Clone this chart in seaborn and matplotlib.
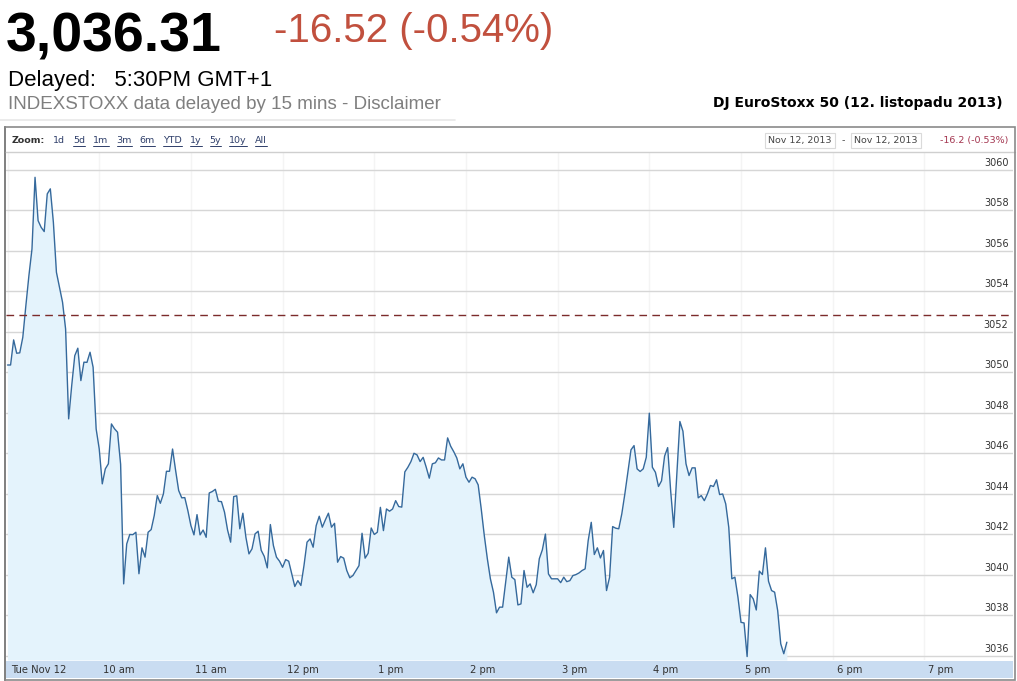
import matplotlib
matplotlib.use("Agg")
import numpy as np
import pandas as pd
import matplotlib.pyplot as plt
from matplotlib.patches import Rectangle
from matplotlib.lines import Line2D
from matplotlib.transforms import blended_transform_factory, ScaledTranslation
import seaborn as sns

# --- data (2-minute closes, 9:00 - 17:30) ---
ceny = [
    3050.35, 3050.35, 3051.59, 3050.93, 3050.95, 3051.72, 3053.28, 3054.77, 3056.08, 3059.62,
    3057.48, 3057.15, 3056.94, 3058.80, 3059.05, 3057.40, 3054.93, 3054.19, 3053.45, 3052.13,
    3047.69, 3049.33, 3050.81, 3051.18, 3049.58, 3050.49, 3050.48, 3050.98, 3050.24, 3047.19,
    3046.21, 3044.48, 3045.22, 3045.47, 3047.44, 3047.20, 3047.03, 3045.45, 3039.54, 3041.51,
    3041.98, 3041.97, 3042.09, 3040.04, 3041.32, 3040.86, 3042.09, 3042.22, 3042.91, 3043.90,
    3043.52, 3043.98, 3045.10, 3045.10, 3046.20, 3045.14, 3044.15, 3043.79, 3043.80, 3043.16,
    3042.42, 3041.96, 3042.96, 3041.96, 3042.20, 3041.84, 3044.03, 3044.10, 3044.21, 3043.62,
    3043.60, 3043.08, 3042.20, 3041.60, 3043.85, 3043.89, 3042.26, 3043.03, 3041.84, 3041.02,
    3041.27, 3042.01, 3042.14, 3041.20, 3040.90, 3040.33, 3042.47, 3041.43, 3040.86, 3040.66,
    3040.36, 3040.74, 3040.66, 3040.04, 3039.41, 3039.70, 3039.46, 3040.44, 3041.60, 3041.76,
    3041.35, 3042.42, 3042.88, 3042.34, 3042.70, 3043.03, 3042.34, 3042.53, 3040.61, 3040.89,
    3040.81, 3040.20, 3039.84, 3039.95, 3040.20, 3040.44, 3042.04, 3040.81, 3041.05, 3042.30,
    3041.98, 3042.09, 3043.32, 3042.17, 3043.24, 3043.13, 3043.24, 3043.65, 3043.36, 3043.33,
    3045.07, 3045.30, 3045.58, 3045.99, 3045.91, 3045.58, 3045.79, 3045.30, 3044.76, 3045.47,
    3045.52, 3045.76, 3045.66, 3045.66, 3046.75, 3046.34, 3046.07, 3045.76, 3045.22, 3045.47,
    3044.81, 3044.56, 3044.81, 3044.73, 3044.43, 3043.24, 3041.93, 3040.78, 3039.79, 3039.13,
    3038.11, 3038.39, 3038.39, 3039.62, 3040.86, 3039.87, 3039.75, 3038.50, 3038.55, 3040.20,
    3039.37, 3039.54, 3039.10, 3039.50, 3040.78, 3041.22, 3042.00, 3040.03, 3039.79, 3039.79,
    3039.79, 3039.60, 3039.87, 3039.65, 3039.70, 3039.95, 3040.00, 3040.08, 3040.20, 3040.28,
    3041.68, 3042.58, 3040.99, 3041.32, 3040.82, 3041.19, 3039.21, 3039.87, 3042.37, 3042.29,
    3042.26, 3043.00, 3043.99, 3045.09, 3046.16, 3046.37, 3045.22, 3045.09, 3045.22, 3045.79,
    3047.97, 3045.30, 3045.05, 3044.35, 3044.63, 3045.85, 3046.27, 3044.10, 3042.33, 3044.97,
    3047.56, 3047.08, 3045.47, 3044.89, 3045.27, 3045.27, 3043.79, 3043.90, 3043.65, 3043.98,
    3044.40, 3044.35, 3044.68, 3043.95, 3043.98, 3043.49, 3042.33, 3039.79, 3039.87, 3038.88,
    3037.64, 3037.61, 3035.95, 3039.01, 3038.80, 3038.25, 3040.17, 3040.00, 3041.32, 3039.67,
    3039.21, 3039.13, 3038.22, 3036.58, 3036.09, 3036.66,
]
cas = pd.date_range("2013-11-12 09:00", periods=len(ceny), freq="2min")
predchozi_zavreni = 3052.83

osa_y = [3036, 3038, 3040, 3042, 3044, 3046, 3048, 3050, 3052, 3054, 3056, 3058, 3060]
hodiny = ["09:00", "10:00", "11:00", "12:00", "13:00", "14:00", "15:00",
          "16:00", "17:00", "18:00", "19:00"]
popisky_x = ["Tue Nov 12", "10 am", "11 am", "12 pm", "1 pm", "2 pm", "3 pm",
             "4 pm", "5 pm", "6 pm", "7 pm"]
zoom_volby = ["1d", "5d", "1m", "3m", "6m", "YTD", "1y", "5y", "10y", "All"]

# --- figure in pixel units ---
W, H = 1017, 681
sns.set_style("white")
plt.rcParams["font.family"] = ["DejaVu Sans"]
fig = plt.figure(figsize=(W / 100, H / 100), dpi=100)


def fx(px):
    return px / W


def fy(py):
    return 1 - py / H


ax = fig.add_axes([fx(6), fy(660), fx(1013) - fx(6), fy(152) - fy(660)])

y_dole, y_nahore = 3035.78, 3060.87
sns.lineplot(x=cas, y=ceny, ax=ax, color="#35699c", linewidth=1.0)
ax.fill_between(cas, ceny, y_dole, color="#e4f3fc", linewidth=0)
ax.axhline(predchozi_zavreni, color="#7b2b2b", linewidth=1.0, linestyle=(0, (5.5, 3.8)))

ax.set_xlim(pd.Timestamp("2013-11-12 08:59"), pd.Timestamp("2013-11-12 19:58"))
ax.set_ylim(y_dole, y_nahore)
ax.set_xlabel("")
ax.set_ylabel("")

# grid
ax.set_yticks(osa_y)
ax.yaxis.grid(True, color="#d6d6d6", linewidth=1)
ax.set_axisbelow(True)
tick_pozice = pd.to_datetime(["2013-11-12 " + h for h in hodiny])
ax.set_xticks(tick_pozice)
ax.xaxis.grid(True, color="#f4f4f4", linewidth=1)
ax.set_xticklabels(popisky_x, ha="left", fontsize=7.2, color="#333333")
ax.tick_params(axis="x", direction="in", length=4, width=1, color="#666666", pad=3.5)
ax.tick_params(axis="y", length=0, labelleft=False, labelright=False)
posun = ScaledTranslation(4 / 100, 0, fig.dpi_scale_trans)
for lab in ax.get_xticklabels():
    lab.set_transform(lab.get_transform() + posun)
for s in ax.spines.values():
    s.set_visible(False)

# y labels inside on the right, just above each grid line
trans = blended_transform_factory(ax.transAxes, ax.transData)
for v in osa_y:
    ax.text(0.9955, v + 0.08, str(v), transform=trans, ha="right", va="bottom",
            fontsize=7, color="#333333")

# x-axis band
fig.patches.append(Rectangle((fx(6), fy(678)), fx(1013) - fx(6), fy(661) - fy(678),
                             transform=fig.transFigure, facecolor="#c9dcf1",
                             edgecolor="none", zorder=-1))

# chart frame and toolbar separator
fig.patches.append(Rectangle((fx(5), fy(680)), fx(1015) - fx(5), fy(127) - fy(680),
                             transform=fig.transFigure, facecolor="none",
                             edgecolor="#8a8a8a", linewidth=1.2, zorder=5))
fig.lines.append(Line2D([fx(5), fx(5)], [fy(127), fy(680)], transform=fig.transFigure,
                        color="#5a5a5a", linewidth=1.4))
fig.lines.append(Line2D([fx(5), fx(1015)], [fy(152), fy(152)], transform=fig.transFigure,
                        color="#cfcfcf", linewidth=1))
fig.lines.append(Line2D([fx(0), fx(455)], [fy(120), fy(120)], transform=fig.transFigure,
                        color="#e8e8e8", linewidth=1.2))

# --- header ---
fig.text(fx(6), fy(52), "3,036.31", fontsize=40, fontweight="bold",
         family="Liberation Sans", color="black", va="baseline")
fig.text(fx(274), fy(42), "-16.52 (-0.54%)", fontsize=29,
         family="Liberation Sans", color="#c1503e", va="baseline")
fig.text(fx(8), fy(86), "Delayed:   5:30PM GMT+1", fontsize=16,
         family="Liberation Sans", color="black", va="baseline")
fig.text(fx(8), fy(109), "INDEXSTOXX data delayed by 15 mins - Disclaimer", fontsize=13.5,
         family="Liberation Sans", color="#7f7f7f", va="baseline")
fig.text(fx(1003), fy(107), "DJ EuroStoxx 50 (12. listopadu 2013)", fontsize=10,
         fontweight="bold", color="black", ha="right", va="baseline")

# --- toolbar ---
renderer = fig.canvas.get_renderer()
t = fig.text(fx(12), fy(143), "Zoom:", fontsize=6.8, fontweight="bold",
             color="#333333", va="baseline")
kurzor = t.get_window_extent(renderer).x1 + 8
for volba in zoom_volby:
    t = fig.text(kurzor / W, fy(143), volba, fontsize=6.8, color="#2f3f6a", va="baseline")
    bb = t.get_window_extent(renderer)
    if volba != "1d":
        fig.lines.append(Line2D([bb.x0 / W, bb.x1 / W], [fy(145.5), fy(145.5)],
                                transform=fig.transFigure, color="#2f3f6a", linewidth=0.7))
    kurzor = bb.x1 + 8

box = dict(boxstyle="square,pad=0.35", facecolor="white", edgecolor="#dadada", linewidth=0.8)
fig.text(fx(800), fy(143), "Nov 12, 2013", fontsize=6.8, color="#444444", ha="center",
         va="baseline", bbox=box)
fig.text(fx(843), fy(143), "-", fontsize=6.8, color="#444444", ha="center", va="baseline")
fig.text(fx(886), fy(143), "Nov 12, 2013", fontsize=6.8, color="#444444", ha="center",
         va="baseline", bbox=box)
fig.text(fx(1008), fy(143), "-16.2 (-0.53%)", fontsize=6.8, color="#a3354f", ha="right",
         va="baseline")

fig.savefig("out.png", dpi=100)
